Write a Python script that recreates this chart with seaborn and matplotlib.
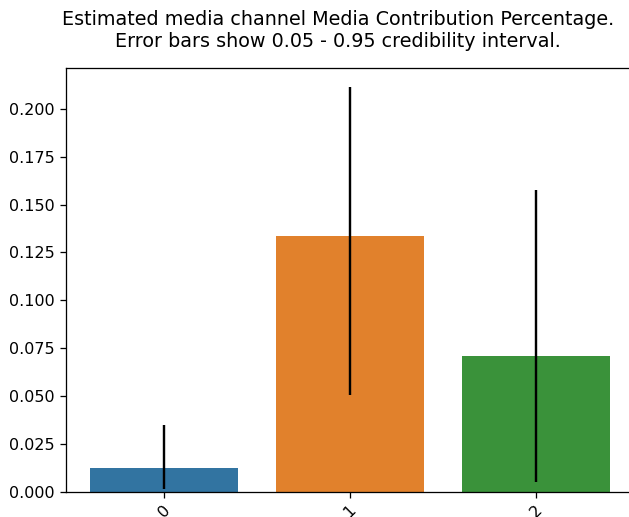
import matplotlib
matplotlib.use("Agg")
import matplotlib.pyplot as plt
import seaborn as sns
import numpy as np
import pandas as pd

channels = ["0", "1", "2"]
contribution = [0.0124, 0.1337, 0.0710]
lower = [0.0012, 0.0505, 0.0049]
upper = [0.0346, 0.2115, 0.1577]

palette = ["#3274a1", "#e1812c", "#3a923a"]

DPI = 115
W, H = 629, 517
fig = plt.figure(figsize=(W / DPI, H / DPI), dpi=DPI)
left_px, right_px, top_px, bot_px = 66, 634, 68, 491.5
ax = fig.add_axes([left_px / W, (H - bot_px) / H,
                   (right_px - left_px) / W, (bot_px - top_px) / H])

df = pd.DataFrame({"channel": channels, "contribution": contribution})
sns.barplot(data=df, x="channel", y="contribution", hue="channel",
            palette=palette, saturation=1, legend=False, ax=ax, width=0.8)

c = np.array(contribution)
yerr = np.vstack([c - np.array(lower), np.array(upper) - c])
ax.errorbar(np.arange(len(channels)), c, yerr=yerr, fmt="none",
            ecolor="black", elinewidth=1.5)

ax.set_xlim(-0.527, 2.527)
ax.set_ylim(0, 0.2214)
ax.set_xlabel("")
ax.set_ylabel("")
ax.tick_params(axis="x", labelrotation=45)
ax.set_title("Estimated media channel Media Contribution Percentage.\n"
             "Error bars show 0.05 - 0.95 credibility interval.",
             fontsize=12, pad=13, x=(338 - left_px) / (right_px - left_px))

fig.savefig("out.png", dpi=DPI)
